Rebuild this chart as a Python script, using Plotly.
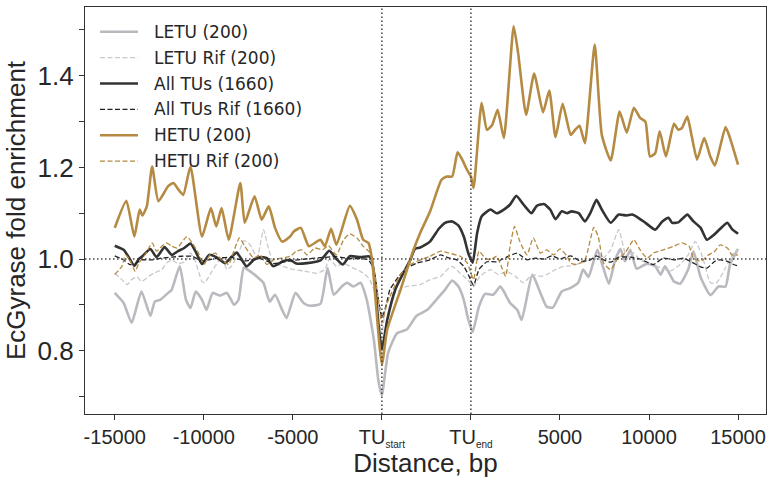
import plotly.graph_objects as go

# ---------------- data (x: bp relative coordinate; TU body scaled to 0..5000) ----------------
LETU_x = [-15000,-14500,-14050,-13500,-13000,-12750,-12450,-12000,-11800,-11350,-11000,-10750,-10450,-10100,-9850,-9500,-9100,-8700,-8300,-8050,-7750,-7400,-7000,-6650,-6300,-6000,-5600,-5350,-4850,-4400,-4050,-3450,-3050,-2700,-2250,-1950,-1600,-1200,-850,-450,-200,0,350,850,1400,1950,2550,3100,3550,3950,4300,4600,4850,5100,5450,5800,6250,6650,6850,7200,7600,7850,8450,8900,9250,9600,10100,10600,11050,11300,11600,12100,12350,12750,13100,13400,13650,13950,14300,14900,15350,15650,15900,16400,16750,17200,17500,17900,18450,18900,19300,19550,20000]
LETU_y = [0.926,0.904,0.861,0.929,0.876,0.907,0.911,0.926,0.933,0.984,0.911,0.893,0.929,0.911,0.889,0.926,0.920,0.926,0.900,0.911,0.981,0.973,0.961,0.948,0.907,0.922,0.889,0.871,0.926,0.904,0.898,0.902,0.980,0.922,0.940,0.948,0.940,0.948,0.911,0.824,0.736,0.703,0.795,0.838,0.846,0.876,0.889,0.913,0.933,0.953,0.940,0.911,0.868,0.841,0.896,0.924,0.922,0.940,0.929,0.904,0.889,0.867,0.966,0.926,0.896,0.894,0.929,0.937,0.950,0.977,0.961,1.020,0.991,0.946,0.998,1.022,0.995,1.020,0.979,0.990,0.984,0.966,0.984,0.951,0.946,0.977,1.017,0.960,0.921,0.940,0.940,0.988,1.022]

LETU_RIF_x = [-15000,-14600,-14300,-14050,-13750,-13500,-13100,-12750,-12350,-12100,-11800,-11450,-11050,-10750,-10500,-10100,-9950,-9550,-9250,-9000,-8700,-8450,-8050,-7750,-7400,-7000,-6650,-6350,-6100,-5550,-4950,-4400,-3650,-3200,-2950,-2550,-2150,-1800,-1200,-750,-450,-200,0,300,1050,1400,2150,2700,3300,3750,3950,4400,4800,5150,5500,6100,6550,7000,7500,7950,8450,8900,9250,9750,10200,10600,11150,11700,12450,12850,13300,13750,14100,14500,15450,16200,16750,17200,17600,18000,18450,18800,19300,19750,20000]
LETU_RIF_y = [0.969,0.955,0.944,0.955,0.961,0.951,0.962,0.970,0.977,0.991,0.998,0.990,0.994,1.013,0.998,0.951,0.948,0.973,0.991,1.005,0.977,0.984,1.013,1.040,1.031,1.003,1.064,1.020,0.994,0.984,0.977,0.974,0.969,0.977,1.000,0.984,0.991,0.984,0.973,0.959,0.933,0.875,0.835,0.911,0.933,0.940,0.944,0.955,0.962,0.980,0.984,0.969,0.955,0.940,0.962,0.977,0.966,0.973,0.962,0.948,0.966,0.962,0.966,0.977,0.984,0.985,0.991,0.998,1.003,1.020,1.064,1.003,1.014,0.998,0.984,0.974,0.988,1.009,1.038,1.005,0.948,0.948,0.981,1.013,1.020]

ALL_x = [-15000,-14500,-14250,-13900,-13650,-13450,-13000,-12650,-12200,-11800,-11450,-11100,-10750,-10400,-10100,-9700,-9300,-8800,-8450,-8150,-7600,-7200,-6850,-6450,-6100,-5550,-5150,-4800,-4200,-3450,-2950,-2550,-2200,-1800,-1200,-750,-600,-400,-200,0,300,750,1200,1600,1850,2150,2700,3200,3550,3950,4300,4600,4850,5100,5350,5600,6100,6450,6850,7200,7550,7950,8400,8700,9100,9450,9750,10100,10400,10650,11050,11400,11700,12050,12350,12850,13300,13750,14050,14400,14800,15350,15750,16100,16300,16650,17150,17500,17900,18250,18650,19000,19400,19650,20000]
ALL_y = [1.029,1.020,1.006,0.985,1.000,1.006,1.022,1.004,1.026,1.009,1.017,1.024,1.034,1.012,0.989,1.009,1.004,0.991,1.004,1.014,0.984,0.998,1.004,1.002,0.984,0.995,0.998,0.990,0.991,0.997,1.018,1.000,0.988,1.006,1.004,1.006,1.002,0.955,0.860,0.802,0.867,0.933,0.969,0.998,1.022,1.025,1.038,1.066,1.079,1.082,1.073,1.049,1.013,0.992,1.057,1.093,1.108,1.100,1.108,1.119,1.138,1.119,1.100,1.116,1.120,1.108,1.087,1.104,1.100,1.104,1.100,1.082,1.100,1.129,1.108,1.079,1.097,1.095,1.097,1.090,1.079,1.064,1.082,1.090,1.079,1.080,1.097,1.082,1.068,1.042,1.053,1.066,1.079,1.066,1.055]

ALL_RIF_x = [-15000,-14500,-14150,-13850,-13500,-12900,-12350,-11800,-11250,-10650,-10100,-9350,-8500,-7700,-6850,-6100,-5150,-4300,-3450,-2600,-1800,-1100,-750,-450,-250,0,250,450,950,1400,1950,2700,3300,3700,4200,4600,4900,5150,5450,5900,6450,7000,7600,8150,8600,9100,9550,10000,10600,11150,11700,12050,12450,12850,13300,13950,14500,15250,15800,16400,16950,17400,17900,18250,18700,19000,19400,19750,20000]
ALL_RIF_y = [1.007,0.998,0.988,0.990,0.998,0.998,1.002,1.004,1.006,1.006,0.996,1.001,1.004,0.996,1.001,0.990,0.996,1.000,1.003,1.005,1.001,1.001,0.998,0.977,0.926,0.872,0.900,0.933,0.962,0.980,0.991,0.998,1.009,1.003,0.998,0.984,0.962,0.942,0.977,0.994,0.994,1.004,1.013,0.998,1.002,1.000,1.007,1.000,1.007,0.995,0.998,1.007,0.998,0.993,1.004,1.004,1.000,0.988,1.002,0.998,1.002,0.993,0.983,0.980,0.995,0.998,0.995,0.988,0.985]

HETU_x = [-15000,-14350,-13900,-13600,-13450,-13200,-12900,-12550,-12000,-11700,-11450,-11150,-10750,-10100,-9600,-9300,-9000,-8600,-7950,-7700,-7150,-6750,-6350,-6000,-5600,-5150,-4950,-4550,-4100,-3450,-3200,-2850,-2550,-1800,-1400,-1050,-750,-550,0,300,1050,1750,2150,2700,3350,3650,3950,4250,4500,4750,5000,5150,5600,5900,6200,6500,6850,7400,7650,8100,8550,9050,9400,9750,10150,10600,10850,11100,11400,11950,12350,12850,13350,13750,14150,14500,14800,15050,15350,15600,15950,16400,16650,16850,17150,17400,17700,18100,18450,18700,19300,19550,20000]
HETU_y = [1.068,1.127,1.049,1.108,1.095,1.115,1.202,1.126,1.159,1.166,1.153,1.140,1.202,1.049,1.111,1.071,1.111,1.042,1.166,1.079,1.137,1.086,1.115,1.068,1.038,1.049,1.060,1.068,1.028,1.042,1.028,1.066,1.031,1.116,1.086,1.042,1.035,0.998,0.770,0.846,0.933,1.017,1.057,1.103,1.173,1.180,1.180,1.233,1.218,1.197,1.180,1.155,1.341,1.282,1.293,1.326,1.264,1.508,1.450,1.315,1.405,1.320,1.368,1.266,1.339,1.271,1.282,1.291,1.253,1.468,1.271,1.215,1.322,1.276,1.330,1.308,1.300,1.224,1.231,1.279,1.224,1.295,1.282,1.286,1.311,1.268,1.217,1.264,1.223,1.204,1.288,1.264,1.206]

HETU_RIF_x = [-15000,-14600,-14400,-14150,-13850,-13650,-13300,-12900,-12650,-12350,-12100,-11800,-11500,-10950,-10650,-10300,-10000,-9650,-9350,-9000,-8600,-8350,-8000,-7700,-7200,-6850,-6450,-6100,-5150,-4800,-4500,-4200,-3750,-3350,-3000,-2550,-2150,-1800,-1400,-1050,-650,-400,-200,0,300,1050,1750,2700,3300,3750,4400,4800,5150,5450,5800,6100,6450,6750,6950,7200,7450,7750,8150,8500,8900,9250,9650,10000,10400,10600,10950,11400,11900,12150,12450,12850,13200,13650,14150,14500,14900,15250,15800,16400,16850,17250,17500,17900,18350,18700,19000,19400,19650,20000]
HETU_RIF_y = [0.966,0.984,1.009,0.998,0.973,0.991,1.009,1.035,1.017,1.028,1.035,1.028,1.024,1.049,1.035,1.013,0.988,1.009,1.013,0.998,0.988,1.013,1.046,1.028,1.002,1.009,0.988,0.998,1.006,1.017,1.020,1.009,1.024,1.020,1.029,1.009,1.042,1.055,1.046,1.028,1.013,0.969,0.911,0.860,0.904,0.966,0.991,1.006,1.017,1.013,1.006,0.991,0.955,1.017,1.002,0.998,1.006,0.980,0.962,1.028,1.071,1.038,1.009,1.046,1.013,1.020,1.009,1.022,1.006,0.991,0.988,0.998,1.069,1.049,0.991,0.977,0.998,1.013,1.042,1.020,1.002,1.013,1.020,1.028,1.035,1.028,1.002,0.995,1.009,1.017,1.031,1.024,1.009,1.009]

X_TICK_VALS = [-15000, -10000, -5000, 0, 5000, 10000, 15000, 20000]
X_TICK_TEXT = ["-15000", "-10000", "-5000",
               "TU<sub><span style='font-size:10px'>start</span></sub>",
               "TU<sub><span style='font-size:10px'>end</span></sub>",
               "5000", "10000", "15000"]
Y_TICK_VALS = [0.8, 1.0, 1.2, 1.4]
Y_MINOR_VALS = [0.7, 0.9, 1.1, 1.3, 1.5]

GOLD = "#b58a42"
series = [
    ("LETU (200)", LETU_x, LETU_y, "#b9b9bf", 2.6, "solid"),
    ("LETU Rif (200)", LETU_RIF_x, LETU_RIF_y, "#c9c9cd", 1.3, "5px,2.5px"),
    ("All TUs (1660)", ALL_x, ALL_y, "#333333", 2.6, "solid"),
    ("All TUs Rif (1660)", ALL_RIF_x, ALL_RIF_y, "#222222", 1.3, "5px,2.5px"),
    ("HETU (200)", HETU_x, HETU_y, GOLD, 2.6, "solid"),
    ("HETU Rif (200)", HETU_RIF_x, HETU_RIF_y, GOLD, 1.3, "5px,2.5px"),
]

W, H = 767, 478
ML, MR, MT, MB = 85, 1, 7, 64
PW, PH = W - ML - MR, H - MT - MB

fig = go.Figure()
for name, xs, ys, color, width, dash in series:
    fig.add_trace(go.Scatter(x=xs, y=ys, mode="lines", name=name, showlegend=False,
                             line=dict(color=color, width=width, dash=dash,
                                       shape="spline", smoothing=0.5)))

ref_line = dict(color="#444444", width=1.5, dash="1.5px,2.5px")
fig.add_hline(y=1.0, line=ref_line, layer="above")
fig.add_vline(x=0, line=ref_line, layer="above")
fig.add_vline(x=5000, line=ref_line, layer="above")

# manual legend (matplotlib-like)
row0_px, row_step = 31.7, 25.9
for i, (name, xs, ys, color, width, dash) in enumerate(series):
    py = row0_px + i * row_step
    yp = (H - MB - py) / PH
    x0 = (100 - ML) / PW
    x1 = (138 - ML) / PW
    fig.add_shape(type="line", xref="paper", yref="paper", x0=x0, x1=x1, y0=yp, y1=yp,
                  line=dict(color=color, width=width, dash=dash))
    fig.add_annotation(xref="paper", yref="paper", x=(151.5 - ML) / PW, y=yp,
                       xanchor="left", yanchor="middle", showarrow=False, text=name,
                       font=dict(family="DejaVu Sans", size=17, color="#262626"))

axis_common = dict(showline=True, mirror=True, linecolor="#333333", linewidth=1.25,
                   ticks="outside", ticklen=5, tickwidth=1.25, tickcolor="#333333",
                   showgrid=False, zeroline=False)
fig.update_xaxes(range=[-16670, 21570], tickmode="array", tickvals=X_TICK_VALS,
                 ticktext=X_TICK_TEXT,
                 tickfont=dict(family="Liberation Sans, Arial", size=20, color="#262626"),
                 title=dict(text="Distance, bp", standoff=8,
                            font=dict(family="Liberation Sans, Arial", size=26, color="#262626")),
                 **axis_common)
fig.update_yaxes(range=[0.6616, 1.5502], tickmode="array", tickvals=Y_TICK_VALS,
                 ticktext=[f"{v:.1f}" for v in Y_TICK_VALS],
                 minor=dict(tickmode="array", tickvals=Y_MINOR_VALS, ticks="outside",
                            ticklen=5, tickwidth=1.25, tickcolor="#333333"),
                 tickfont=dict(family="Liberation Sans, Arial", size=26, color="#262626"),
                 title=dict(text="EcGyrase fold enrichment", standoff=4,
                            font=dict(family="Liberation Sans, Arial", size=26, color="#262626")),
                 **axis_common)
fig.update_layout(width=W, height=H, margin=dict(l=ML, r=MR, t=MT, b=MB, autoexpand=False),
                  plot_bgcolor="white", paper_bgcolor="white")
fig.write_html("out.html")
